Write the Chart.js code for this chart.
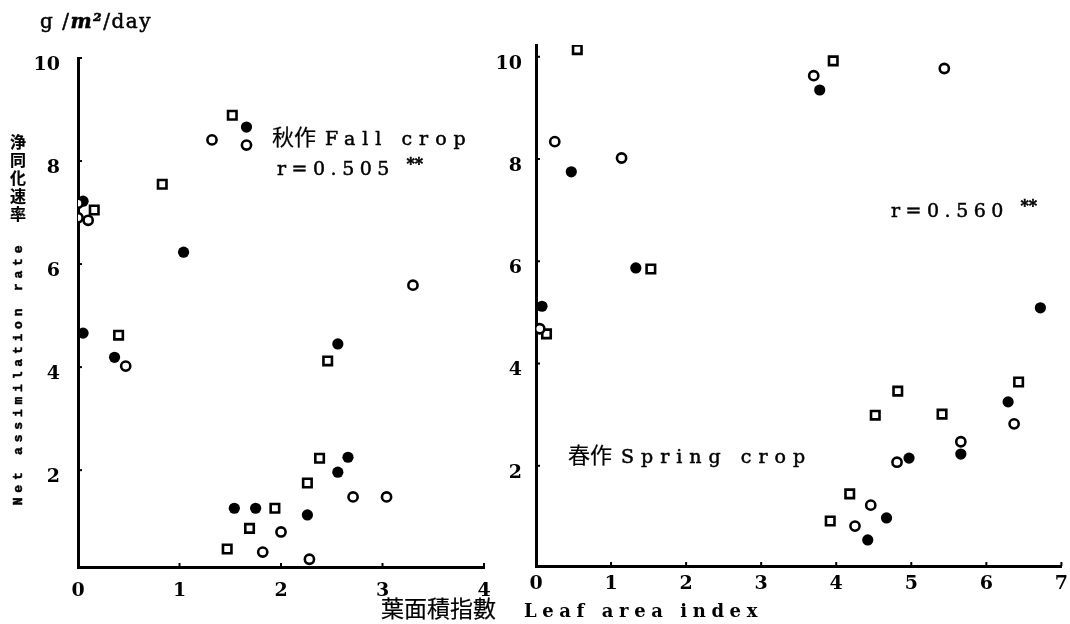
<!DOCTYPE html>
<html>
<head>
<meta charset="utf-8">
<script src="https://cdn.jsdelivr.net/npm/chart.js@4.4.1/dist/chart.umd.min.js"></script>
<style>
    body {
        margin: 0;
        background: #fff;
        width: 1070px;
        height: 624px;
        position: relative;
        overflow: hidden;
    }

    canvas {
        position: absolute;
        top: 0;
    }

    #fallChart { left: 0; }
    #springChart { left: 470px; }

    .txt {
        position: absolute;
        white-space: nowrap;
        color: #000;
        line-height: 1;
        font-family: "DejaVu Serif", serif;
        -webkit-text-stroke: 0.5px #000;
    }

    .cjk {
        font-family: "Noto Sans CJK JP", sans-serif;
        font-weight: normal;
        letter-spacing: 0;
        -webkit-text-stroke: 0.2px #000;
    }

    .stars {
        font-size: 16px;
        font-weight: bold;
        vertical-align: 6px;
        letter-spacing: 0;
    }
</style>
</head>
<body>

<canvas id="fallChart" width="500" height="624"></canvas>
<canvas id="springChart" width="600" height="624"></canvas>

<!-- axis titles -->
<div class="txt" style="left:40px; top:11px; font-size:20px; letter-spacing:1.5px;">g /<b><i>m²</i></b>/day</div>
<div class="txt cjk" style="left:10px; top:134px; font-size:16px; font-weight:bold; writing-mode:vertical-rl; letter-spacing:2px;">浄同化速率</div>
<div class="txt" style="left:18px; top:373px; transform:translate(-50%,-50%) rotate(-90deg); font-family:'Liberation Mono',monospace; font-weight:bold; font-size:13px; letter-spacing:4.8px;">Net assimilation rate</div>
<div class="txt" style="left:381px; top:596px; font-size:18px; font-weight:bold; -webkit-text-stroke:0;"><span class="cjk" style="font-size:23px;">葉面積指數</span><span style="letter-spacing:5.6px; margin-left:28px;">Leaf area index</span></div>

<!-- panel notes -->
<div class="txt" style="left:272px; top:124px; font-size:19px;"><span class="cjk" style="font-size:22px;">秋作</span><span style="letter-spacing:7px; margin-left:9px;">Fall crop</span></div>
<div class="txt" style="left:277px; top:156px; font-size:19px; letter-spacing:5.5px;">r=0.505 <span class="stars">**</span></div>
<div class="txt" style="left:891px; top:198px; font-size:19px; letter-spacing:5.5px;">r=0.560 <span class="stars">**</span></div>
<div class="txt" style="left:568px; top:442px; font-size:19px;"><span class="cjk" style="font-size:22px;">春作</span><span style="letter-spacing:7px; margin-left:9px;">Spring crop</span></div>

<script>
// tick values shared by both panels
const yTicks = [2, 4, 6, 8, 10];
const fallXTicks = [0, 1, 2, 3, 4];
const springXTicks = [0, 1, 2, 3, 4, 5, 6, 7];

// 秋作 - leaf area index / net assimilation rate
const fallOpenLai = [1.32, 1.66, 0.00, 0.00, 0.10, 0.47, 2.00, 1.82, 2.28, 2.71, 3.04, 3.30];
const fallOpenNar = [8.41, 8.31, 7.18, 6.90, 6.85, 4.02, 0.80, 0.41, 0.27, 1.48, 1.48, 5.59];

const fallSolidLai = [1.66, 1.04, 0.05, 0.05, 0.36, 1.54, 1.75, 2.56, 2.66, 2.56, 2.26];
const fallSolidNar = [8.66, 6.23, 7.22, 4.66, 4.19, 1.26, 1.26, 4.45, 2.25, 1.96, 1.13];

const fallSquareLai = [1.52, 0.83, 0.16, 0.40, 1.94, 1.69, 1.47, 2.46, 2.38, 2.26];
const fallSquareNar = [8.89, 7.55, 7.05, 4.62, 1.26, 0.87, 0.47, 4.12, 2.23, 1.75];

// 春作
const springOpenLai = [0.25, 1.14, 0.05, 3.70, 5.44, 6.37, 5.66, 4.81, 4.46, 4.25];
const springOpenNar = [8.34, 8.02, 4.68, 9.63, 9.77, 2.82, 2.47, 2.07, 1.23, 0.82];

const springSolidLai = [0.47, 1.33, 0.08, 3.78, 6.72, 6.29, 5.66, 4.97, 4.67, 4.42];
const springSolidNar = [7.75, 5.87, 5.12, 9.35, 5.09, 3.25, 2.23, 2.15, 0.98, 0.55];

const springSquareLai = [0.55, 1.53, 0.14, 3.96, 4.82, 4.52, 5.41, 6.43, 4.18, 3.92];
const springSquareNar = [10.14, 5.85, 4.58, 9.92, 3.46, 2.99, 3.01, 3.64, 1.45, 0.92];

function toPoints(xs, ys) {
    return xs.map((x, i) => ({ x: x, y: ys[i] }));
}

function seriesSet(openX, openY, solidX, solidY, squareX, squareY) {
    return [
        {
            label: "open",
            data: toPoints(openX, openY),
            pointStyle: "circle",
            pointRadius: 4.6,
            pointBorderWidth: 2.6,
            pointBorderColor: "#000",
            pointBackgroundColor: "#fff"
        },
        {
            label: "solid",
            data: toPoints(solidX, solidY),
            pointStyle: "circle",
            pointRadius: 5.6,
            pointBorderWidth: 0,
            pointBorderColor: "#000",
            pointBackgroundColor: "#000"
        },
        {
            label: "square",
            data: toPoints(squareX, squareY),
            pointStyle: "rect",
            pointRadius: 6,
            pointBorderWidth: 2.6,
            pointBorderColor: "#000",
            pointBackgroundColor: "#fff"
        }
    ];
}

// small tick nubs drawn on the inside of both axes
const innerTicks = {
    id: "innerTicks",
    afterDraw(chart) {
        const ctx = chart.ctx;
        const area = chart.chartArea;
        ctx.save();
        ctx.strokeStyle = "#000";
        ctx.lineWidth = 2;
        chart.scales.x.ticks.forEach(t => {
            const px = chart.scales.x.getPixelForValue(t.value);
            ctx.beginPath();
            ctx.moveTo(px, area.bottom);
            ctx.lineTo(px, area.bottom - 4);
            ctx.stroke();
        });
        chart.scales.y.ticks.forEach(t => {
            const py = chart.scales.y.getPixelForValue(t.value);
            ctx.beginPath();
            ctx.moveTo(area.left, py);
            ctx.lineTo(area.left + 4, py);
            ctx.stroke();
        });
        ctx.restore();
    }
};

function buildOptions(cfg) {

    const tickFont = {
        family: "'DejaVu Serif', serif",
        size: 19,
        weight: "bold"
    };

    return {
        responsive: false,
        animation: false,
        devicePixelRatio: 1,
        layout: {
            padding: cfg.padding
        },
        plugins: {
            legend: { display: false },
            tooltip: { enabled: false }
        },
        scales: {
            x: {
                type: "linear",
                min: cfg.xMin,
                max: cfg.xMax,
                afterBuildTicks(scale) {
                    scale.ticks = cfg.xTicks.map(v => ({ value: v }));
                },
                afterFit(scale) {
                    scale.height = cfg.xAxisHeight;
                    scale.paddingLeft = 0;
                    scale.paddingRight = 0;
                },
                grid: {
                    drawOnChartArea: false,
                    drawTicks: false
                },
                border: {
                    display: true,
                    color: "#000",
                    width: 3
                },
                ticks: {
                    color: "#000",
                    font: tickFont,
                    padding: cfg.xLabelPad,
                    maxRotation: 0,
                    autoSkip: false
                }
            },
            y: {
                type: "linear",
                min: cfg.yMin,
                max: cfg.yMax,
                afterBuildTicks(scale) {
                    scale.ticks = yTicks.map(v => ({ value: v }));
                },
                afterFit(scale) {
                    scale.width = cfg.yAxisWidth;
                    scale.paddingTop = 0;
                    scale.paddingBottom = 0;
                },
                grid: {
                    drawOnChartArea: false,
                    drawTicks: false
                },
                border: {
                    display: true,
                    color: "#000",
                    width: 3
                },
                ticks: {
                    color: "#000",
                    font: tickFont,
                    padding: cfg.yLabelPad,
                    labelOffset: 7,
                    autoSkip: false
                }
            }
        }
    };
}

new Chart(document.getElementById("fallChart"), {
    type: "scatter",
    data: {
        datasets: seriesSet(
            fallOpenLai, fallOpenNar,
            fallSolidLai, fallSolidNar,
            fallSquareLai, fallSquareNar
        )
    },
    options: buildOptions({
        xMin: 0,
        xMax: 4,
        yMin: 0.12,
        yMax: 10,
        xTicks: fallXTicks,
        padding: { left: 0, right: 16, top: 58, bottom: 0 },
        yAxisWidth: 78,
        xAxisHeight: 57,
        yLabelPad: 18,
        xLabelPad: 13
    }),
    plugins: [innerTicks]
});

new Chart(document.getElementById("springChart"), {
    type: "scatter",
    data: {
        datasets: seriesSet(
            springOpenLai, springOpenNar,
            springSolidLai, springSolidNar,
            springSquareLai, springSquareNar
        )
    },
    options: buildOptions({
        xMin: 0,
        xMax: 7,
        yMin: 0.04,
        yMax: 10.23,
        xTicks: springXTicks,
        padding: { left: 0, right: 2, top: 45, bottom: 0 },
        yAxisWidth: 66,
        xAxisHeight: 58,
        yLabelPad: 14,
        xLabelPad: 7
    }),
    plugins: [innerTicks]
});
</script>
</body>
</html>
